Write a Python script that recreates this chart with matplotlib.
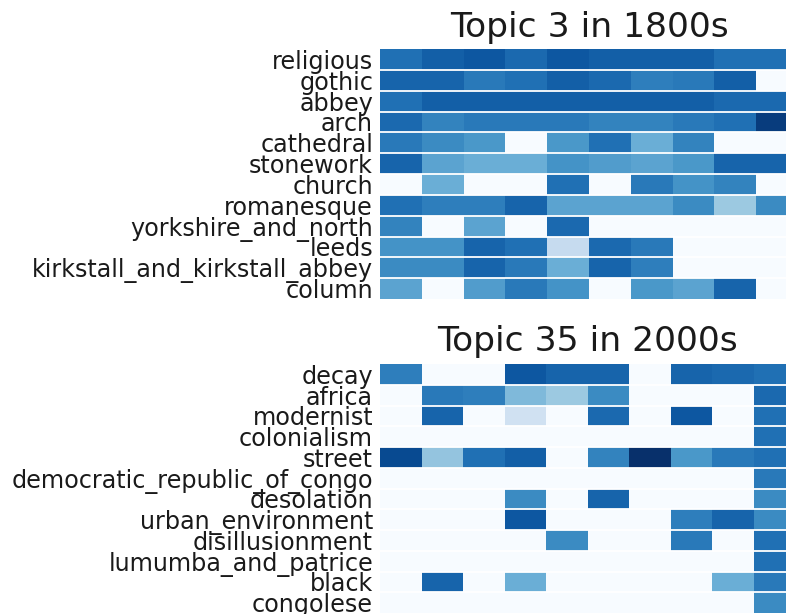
import numpy as np
import matplotlib
matplotlib.use("Agg")
import matplotlib.pyplot as plt

# Topic-term weights per decade slice (rows: terms, columns: time bins)
terms_1800s = ["religious", "gothic", "abbey", "arch", "cathedral", "stonework",
               "church", "romanesque", "yorkshire_and_north", "leeds",
               "kirkstall_and_kirkstall_abbey", "column"]
weights_1800s = [
    [0.75, 0.82, 0.85, 0.78, 0.85, 0.82, 0.82, 0.82, 0.75, 0.75],
    [0.80, 0.80, 0.72, 0.75, 0.82, 0.78, 0.70, 0.72, 0.82, 0.00],
    [0.75, 0.82, 0.82, 0.82, 0.82, 0.82, 0.82, 0.82, 0.78, 0.78],
    [0.78, 0.68, 0.72, 0.72, 0.72, 0.68, 0.68, 0.72, 0.75, 0.95],
    [0.72, 0.65, 0.60, 0.00, 0.60, 0.75, 0.50, 0.68, 0.00, 0.00],
    [0.80, 0.55, 0.50, 0.50, 0.62, 0.58, 0.55, 0.60, 0.80, 0.80],
    [0.00, 0.50, 0.00, 0.00, 0.75, 0.00, 0.72, 0.62, 0.68, 0.00],
    [0.75, 0.70, 0.70, 0.80, 0.55, 0.55, 0.55, 0.65, 0.38, 0.65],
    [0.68, 0.00, 0.55, 0.00, 0.78, 0.00, 0.00, 0.00, 0.00, 0.00],
    [0.62, 0.62, 0.80, 0.75, 0.25, 0.78, 0.72, 0.00, 0.00, 0.00],
    [0.65, 0.65, 0.80, 0.72, 0.50, 0.80, 0.70, 0.00, 0.00, 0.00],
    [0.55, 0.00, 0.58, 0.72, 0.62, 0.00, 0.60, 0.55, 0.80, 0.00],
]

terms_2000s = ["decay", "africa", "modernist", "colonialism", "street",
               "democratic_republic_of_congo", "desolation", "urban_environment",
               "disillusionment", "lumumba_and_patrice", "black", "congolese"]
weights_2000s = [
    [0.70, 0.00, 0.00, 0.85, 0.80, 0.80, 0.00, 0.80, 0.78, 0.75],
    [0.00, 0.72, 0.70, 0.45, 0.38, 0.65, 0.00, 0.00, 0.00, 0.78],
    [0.00, 0.80, 0.00, 0.20, 0.00, 0.78, 0.00, 0.85, 0.00, 0.75],
    [0.00, 0.00, 0.00, 0.00, 0.00, 0.00, 0.00, 0.00, 0.00, 0.75],
    [0.90, 0.40, 0.75, 0.82, 0.00, 0.68, 1.00, 0.60, 0.72, 0.75],
    [0.00, 0.00, 0.00, 0.00, 0.00, 0.00, 0.00, 0.00, 0.00, 0.72],
    [0.00, 0.00, 0.00, 0.65, 0.00, 0.80, 0.00, 0.00, 0.00, 0.65],
    [0.00, 0.00, 0.00, 0.85, 0.00, 0.00, 0.00, 0.70, 0.80, 0.65],
    [0.00, 0.00, 0.00, 0.00, 0.65, 0.00, 0.00, 0.72, 0.00, 0.75],
    [0.00, 0.00, 0.00, 0.00, 0.00, 0.00, 0.00, 0.00, 0.00, 0.75],
    [0.00, 0.80, 0.00, 0.50, 0.00, 0.00, 0.00, 0.00, 0.50, 0.72],
    [0.00, 0.00, 0.00, 0.00, 0.00, 0.00, 0.00, 0.00, 0.00, 0.65],
]

titles = ["Topic 3 in 1800s", "Topic 35 in 2000s"]

W, H = 786, 614
fig = plt.figure(figsize=(W / 100, H / 100), dpi=100)


def px_axes(left, top, right, bottom):
    return fig.add_axes([left / W, 1 - bottom / H, (right - left) / W, (bottom - top) / H])


def draw_heatmap(ax, data, labels, title):
    arr = np.array(data)
    nrows, ncols = arr.shape
    ax.pcolormesh(arr, cmap="Blues", vmin=0, vmax=1, edgecolors="none")
    # thin white rules between term rows
    for y in range(1, nrows):
        ax.axhline(y, color="white", linewidth=1.3)
    ax.set_xlim(0, ncols)
    ax.set_ylim(nrows, 0)
    ax.set_yticks(np.arange(nrows) + 0.5)
    ax.set_yticklabels(labels, fontsize=17.2, color="#1a1a1a")
    ax.set_xticks([])
    ax.tick_params(axis="y", length=0, pad=5)
    for s in ax.spines.values():
        s.set_visible(False)
    ax.set_title(title, fontsize=24.8, color="#1a1a1a", pad=9)


ax1 = px_axes(380, 49, 798, 299)
draw_heatmap(ax1, weights_1800s, terms_1800s, titles[0])
ax2 = px_axes(380, 364, 795, 613)
draw_heatmap(ax2, weights_2000s, terms_2000s, titles[1])

fig.savefig("out.png", dpi=100)
